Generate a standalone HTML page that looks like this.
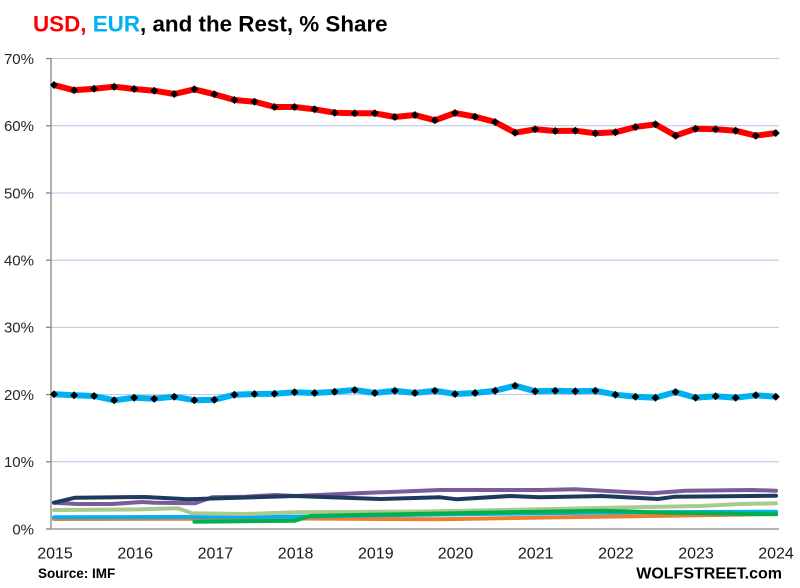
<!DOCTYPE html>
<html>
<head>
<meta charset="utf-8">
<style>
html,body{margin:0;padding:0;background:#fff;}
svg{display:block;}
text{font-family:"Liberation Sans",Arial,sans-serif;}
</style>
</head>
<body>
<svg width="800" height="588" viewBox="0 0 800 588" xmlns="http://www.w3.org/2000/svg">
<defs>
<marker id="dia" markerWidth="10" markerHeight="10" refX="5" refY="5" markerUnits="userSpaceOnUse">
<path d="M5,1 L9,5 L5,9 L1,5 Z" fill="#000"/>
</marker>
</defs>
<rect width="800" height="588" fill="#fff"/>
<!-- title -->
<text x="33" y="31.5" font-size="22.4" font-weight="bold" fill="#000"><tspan fill="#FF0000">USD,</tspan> <tspan fill="#00B0F0">EUR</tspan>, and the Rest, % Share</text>

<!-- gridlines -->
<g stroke="#B4C7E7" stroke-width="1">
<line x1="51" x2="779" y1="58.6" y2="58.6"/>
<line x1="51" x2="779" y1="125.8" y2="125.8"/>
<line x1="51" x2="779" y1="193" y2="193"/>
<line x1="51" x2="779" y1="260.2" y2="260.2"/>
<line x1="51" x2="779" y1="327.4" y2="327.4"/>
<line x1="51" x2="779" y1="394.6" y2="394.6"/>
<line x1="51" x2="779" y1="461.8" y2="461.8"/>
</g>
<!-- axes -->
<g stroke="#868686" stroke-width="1.3">
<line x1="51" x2="51" y1="58" y2="529.5"/>
<line x1="51" x2="779" y1="529" y2="529"/>
<line x1="46" x2="51" y1="58.6" y2="58.6"/>
<line x1="46" x2="51" y1="125.8" y2="125.8"/>
<line x1="46" x2="51" y1="193" y2="193"/>
<line x1="46" x2="51" y1="260.2" y2="260.2"/>
<line x1="46" x2="51" y1="327.4" y2="327.4"/>
<line x1="46" x2="51" y1="394.6" y2="394.6"/>
<line x1="46" x2="51" y1="461.8" y2="461.8"/>
<line x1="46" x2="51" y1="529" y2="529"/>
</g>
<!-- y labels -->
<g font-size="15" fill="#262626" text-anchor="end">
<text x="34" y="64">70%</text>
<text x="34" y="131">60%</text>
<text x="34" y="198.5">50%</text>
<text x="34" y="265.5">40%</text>
<text x="34" y="332.5">30%</text>
<text x="34" y="400">20%</text>
<text x="34" y="467">10%</text>
<text x="34" y="534.5">0%</text>
</g>
<!-- x labels -->
<g font-size="16" fill="#1a1a1a" text-anchor="middle">
<text x="55" y="558.5">2015</text>
<text x="135.2" y="558.5">2016</text>
<text x="215.4" y="558.5">2017</text>
<text x="295.6" y="558.5">2018</text>
<text x="375.8" y="558.5">2019</text>
<text x="455.5" y="558.5">2020</text>
<text x="535.7" y="558.5">2021</text>
<text x="615.9" y="558.5">2022</text>
<text x="696" y="558.5">2023</text>
<text x="776" y="558.5">2024</text>
</g>

<!-- minor series -->
<g fill="none" stroke-width="4" stroke-linejoin="round" stroke-linecap="round">
<polyline stroke="#ED7D31" points="54,519 300,518.5 440,519.3 560,517.3 650,516 776,514"/>
<polyline stroke="#00B0F0" points="54,517.3 295,516.7 400,515 540,513.3 635,512.3 776,511.7"/>
<polyline stroke="#A9C98F" points="54,510 135,509.5 178,508.3 192,513.3 245,514 295,512.3 423,511.5 540,509.3 600,508 700,506 740,504 776,503.3"/>
<polyline stroke="#00B050" points="194.4,521.7 295,520.7 310,516 357,515 540,511.7 602,510.7 668,512.7 776,514.3"/>
<polyline stroke="#7A5C9A" points="54,502.7 78,504 112,504 142,502 155,502.7 195,503.3 212,497.3 245,496.7 275,495 295,496 357,493.3 440,490 540,490 575,489.3 652,493.3 685,490.7 752,490 776,490.7"/>
<polyline stroke="#1F3A5F" points="54,502.7 75,497.7 145,497 188,499.3 295,496 380,499 440,497.3 457,499.3 510,496 540,497.3 602,496 658,499 675,496.7 776,495.7"/>
</g>

<!-- EUR -->
<polyline fill="none" stroke="#00B0F0" stroke-width="6" stroke-linejoin="round" marker-start="url(#dia)" marker-mid="url(#dia)" marker-end="url(#dia)"
points="54,394.3 74.05,395.3 94.1,396 114.15,400.3 134.2,397.7 154.25,398.7 174.3,396.7 194.35,400.3 214.4,399.7 234.45,394.7 254.5,394 274.55,393.7 294.6,392.3 314.65,393 334.7,391.7 354.75,390 374.8,393 394.85,390.7 414.9,393 434.95,390.7 455,394 475.05,393 495.1,390.7 515.15,385.7 535.2,391.3 555.25,390.7 575.3,391.3 595.35,390.7 615.4,394.7 635.45,396.7 655.5,397.7 675.55,392 695.6,397.7 715.65,396.3 735.7,397.7 755.75,395.3 775.8,396.7"/>

<!-- USD -->
<polyline fill="none" stroke="#FF0000" stroke-width="6" stroke-linejoin="round" marker-start="url(#dia)" marker-mid="url(#dia)" marker-end="url(#dia)"
points="54,85 74.05,90.3 94.1,88.7 114.15,86.7 134.2,89 154.25,90.7 174.3,94 194.35,89.3 214.4,94.3 234.45,100 254.5,101.7 274.55,107 294.6,107 314.65,109.3 334.7,112.7 354.75,113.3 374.8,113.3 394.85,117 414.9,115 434.95,120.3 455,113 475.05,116.7 495.1,122 515.15,132.7 535.2,129.3 555.25,131 575.3,130.7 595.35,133.3 615.4,132.3 635.45,127 655.5,124.3 675.55,135.7 695.6,128.7 715.65,129.3 735.7,130.7 755.75,135.7 775.8,133"/>

<!-- footer -->
<text x="38" y="578" font-size="13.5" font-weight="bold" fill="#000">Source: IMF</text>
<text x="782" y="578.5" font-size="16" font-weight="bold" fill="#000" text-anchor="end">WOLFSTREET.com</text>
</svg>
</body>
</html>
